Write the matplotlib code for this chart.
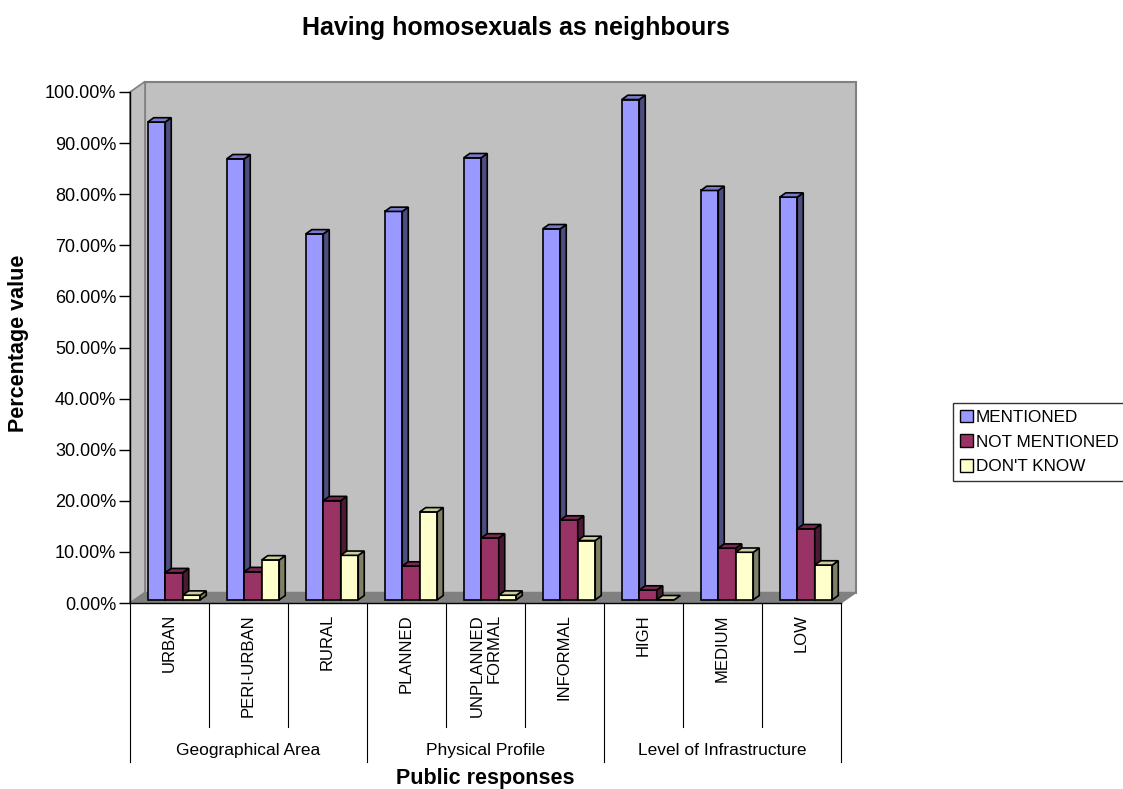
import numpy as np
import matplotlib
matplotlib.use('Agg')
import matplotlib.pyplot as plt
from matplotlib.patches import Polygon, Patch
from matplotlib.transforms import ScaledTranslation

plt.rcParams['font.family'] = ['Liberation Sans', 'DejaVu Sans']

# dados
categorias = ['URBAN', 'PERI-URBAN', 'RURAL', 'PLANNED', 'UNPLANNED\nFORMAL',
              'INFORMAL', 'HIGH', 'MEDIUM', 'LOW']
grupos = ['Geographical Area', 'Physical Profile', 'Level of Infrastructure']
series_nomes = ['MENTIONED', 'NOT MENTIONED', "DON'T KNOW"]
mentioned = [93.5, 86.3, 71.6, 76.0, 86.5, 72.6, 97.9, 80.1, 78.8]
not_mentioned = [5.3, 5.5, 19.4, 6.6, 12.1, 15.6, 1.9, 10.1, 13.9]
dont_know = [0.9, 7.8, 8.7, 17.2, 0.9, 11.6, 0.0, 9.3, 6.8]
series = [mentioned, not_mentioned, dont_know]

# cores: frente, lado, topo
cores = [('#9999FF', '#4D4D80', '#7A7ACC'),
         ('#993366', '#4D1A33', '#7A2952'),
         ('#FFFFCC', '#808066', '#CCCCA3')]

W, H = 1123, 789
fig = plt.figure(figsize=(W / 100, H / 100), dpi=100)
ax = fig.add_axes([130 / W, 186 / H, 711 / W, 511 / H])
ax.set_xlim(0, 9)
ax.set_ylim(0, 100)
ax.patch.set_visible(False)
for s in ax.spines.values():
    s.set_visible(False)

# tamanho em pixels de uma unidade
ux = 711 / 9
uy = 511 / 100
prof_x, prof_y = 15 / ux, 10.5 / uy     # profundidade da caixa
bdx, bdy = 6 / ux, 4.3 / uy             # profundidade da barra
largura = 17.5 / ux

# paredes e chao
ax.add_patch(Polygon([(prof_x, prof_y), (9 + prof_x, prof_y), (9 + prof_x, 100 + prof_y),
                      (prof_x, 100 + prof_y)], fc='#C0C0C0', ec='#808080', lw=1.5,
                     clip_on=False, zorder=0))
ax.add_patch(Polygon([(0, 0), (prof_x, prof_y), (prof_x, 100 + prof_y), (0, 100)],
                     fc='#C0C0C0', ec='#808080', lw=1.2, clip_on=False, zorder=0.1))
ax.add_patch(Polygon([(0, 0), (9, 0), (9 + prof_x, prof_y), (prof_x, prof_y)],
                     fc='#808080', ec='#808080', lw=1, clip_on=False, zorder=0.2))
ax.plot([0, 9], [0, 0], color='black', lw=1, clip_on=False, zorder=0.3)
ax.plot([0, 0], [0, 100], color='black', lw=1, clip_on=False, zorder=0.3)

# barras deslocadas para dentro da caixa
tr = ax.transData + ScaledTranslation(4.5 / 100, 3.2 / 100, fig.dpi_scale_trans)
z = 2.0
for i in range(len(categorias)):
    x0 = i + 0.5 - 1.5 * largura
    for j, vals in enumerate(series):
        x = x0 + j * largura
        v = vals[i]
        frente, lado, topo = cores[j]
        ax.bar(x, v, largura, align='edge', color=frente, edgecolor='black',
               lw=1.2, transform=tr, clip_on=False, zorder=z)
        ax.add_patch(Polygon([(x + largura, 0), (x + largura + bdx, bdy),
                              (x + largura + bdx, v + bdy), (x + largura, v)],
                             fc=lado, ec='black', lw=1.2, transform=tr,
                             clip_on=False, zorder=z + 0.001))
        ax.add_patch(Polygon([(x, v), (x + bdx, v + bdy), (x + largura + bdx, v + bdy),
                              (x + largura, v)], fc=topo, ec='black', lw=1.2,
                             transform=tr, clip_on=False, zorder=z + 0.002))
        z += 0.01

# eixo y
ticks = np.arange(0, 101, 10)
ax.set_yticks(ticks, [f'{t:.2f}%' for t in ticks])
ax.tick_params(axis='y', length=8, width=1, color='black', pad=2, labelsize=13)

# eixo x com categorias
ax.set_xticks(np.arange(len(categorias)) + 0.5, categorias, rotation=90, fontsize=12)
ax.tick_params(axis='x', length=0, pad=8)
for lab in ax.get_xticklabels():
    lab.set_multialignment('right')

xt = ax.get_xaxis_transform()
for k in range(len(categorias) + 1):
    fim = -0.311 if k % 3 == 0 else -0.2427
    ax.plot([k, k], [0, fim], transform=xt, color='black', lw=0.8, clip_on=False)
for g, nome in enumerate(grupos):
    ax.text(3 * g + 1.5, -0.2896, nome, transform=xt, ha='center', va='center',
            fontsize=12.5)

ax.text(0.5, -0.3425, 'Public responses', transform=ax.transAxes, ha='center',
        va='center', fontsize=15.5, fontweight='bold')
ax.text(-0.1575, 0.509, 'Percentage value', transform=ax.transAxes, rotation=90,
        ha='center', va='center', fontsize=15.5, fontweight='bold')
fig.text(516 / W, 1 - 28 / H, 'Having homosexuals as neighbours', ha='center',
         va='center', fontsize=18, fontweight='bold')

# legenda
handles = [Patch(facecolor=c[0], edgecolor='black', lw=1) for c in cores]
leg = fig.legend(handles, series_nomes, loc='upper left',
                 bbox_to_anchor=(953 / W, 1 - 403 / H), frameon=True, fancybox=False,
                 fontsize=12.3, handlelength=0.75, handleheight=0.75, handletextpad=0.2,
                 borderpad=0.4, labelspacing=0.55, borderaxespad=0)
leg.get_frame().set_edgecolor('black')
leg.get_frame().set_linewidth(1)

plt.savefig('out.png', dpi=100)
